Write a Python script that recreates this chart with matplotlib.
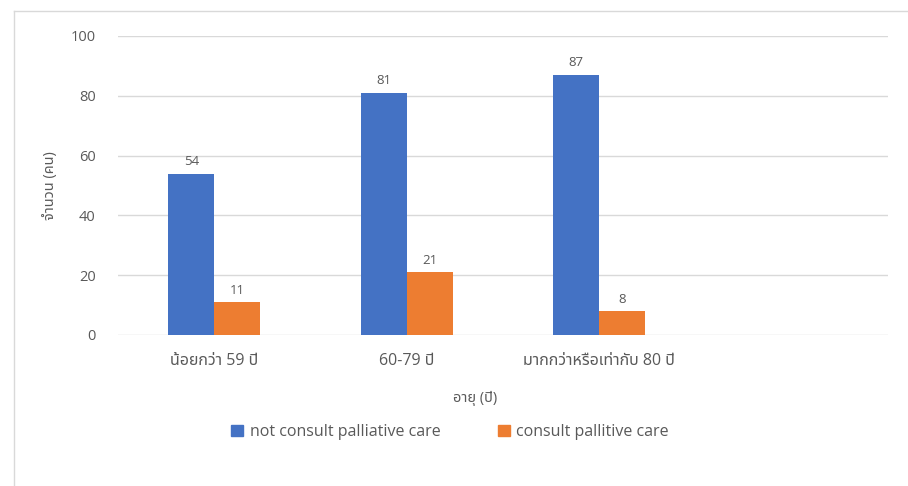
import matplotlib
matplotlib.use('Agg')
import matplotlib.pyplot as plt
from matplotlib.lines import Line2D
from matplotlib.patches import Patch
import numpy as np

# age groups (4th slot is an empty category)
categories = ['น้อยกว่า 59 ปี', '60-79 ปี', 'มากกว่าหรือเท่ากับ 80 ปี', '']
not_consult = [54, 81, 87]
consult = [11, 21, 8]
series_names = ['not consult palliative care', 'consult pallitive care']
yticks = [0, 20, 40, 60, 80, 100]

plt.rcParams['font.family'] = ['Open Sans', 'Noto Sans Thai', 'IBM Plex Sans Thai', 'DejaVu Sans']

blue = '#4472C4'
orange = '#ED7D31'
grey_text = '#595959'
grid_col = '#D9D9D9'

fig = plt.figure(figsize=(9.08, 4.86), dpi=100)
ax = fig.add_axes([0.130, 0.3107, 0.848, 0.6153])

x = np.arange(len(not_consult))
w = 0.24
b1 = ax.bar(x - w / 2, not_consult, w, color=blue, zorder=3)
b2 = ax.bar(x + w / 2, consult, w, color=orange, zorder=3)
ax.bar_label(b1, padding=4, fontsize=9.5, color=grey_text)
ax.bar_label(b2, padding=4, fontsize=9.5, color=grey_text)

ax.set_xlim(-0.5, 3.5)
ax.set_ylim(0, 100)
ax.set_yticks(yticks)
ax.set_xticks(range(len(categories)))
ax.set_xticklabels(categories, fontsize=11.5, color=grey_text)
ax.tick_params(axis='y', length=0, pad=16, labelsize=10.5, labelcolor=grey_text)
ax.tick_params(axis='x', length=0, pad=13)
ax.yaxis.grid(True, color=grid_col, linewidth=1, zorder=0)
for s in ax.spines.values():
    s.set_visible(False)

ax.set_ylabel('จำนวน (คน)', fontsize=10.5, color=grey_text, labelpad=9)
fig.text(475 / 908, 1 - 398 / 486, 'อายุ (ปี)', fontsize=10.5, color=grey_text,
         ha='center', va='center')

handles = [Patch(color=blue), Patch(color=orange)]
fig.legend(handles, series_names, loc='center', bbox_to_anchor=(450 / 908, 1 - 432 / 486),
           ncol=2, frameon=False, fontsize=11.5, labelcolor=grey_text,
           handlelength=0.75, handleheight=0.75, handletextpad=0.4, columnspacing=3.6)

# chart area border (top and left edges)
fig.add_artist(Line2D([14 / 908, 1], [1 - 11 / 486] * 2, color=grid_col, linewidth=1))
fig.add_artist(Line2D([14 / 908] * 2, [0, 1 - 11 / 486], color=grid_col, linewidth=1))

fig.savefig('out.png')
